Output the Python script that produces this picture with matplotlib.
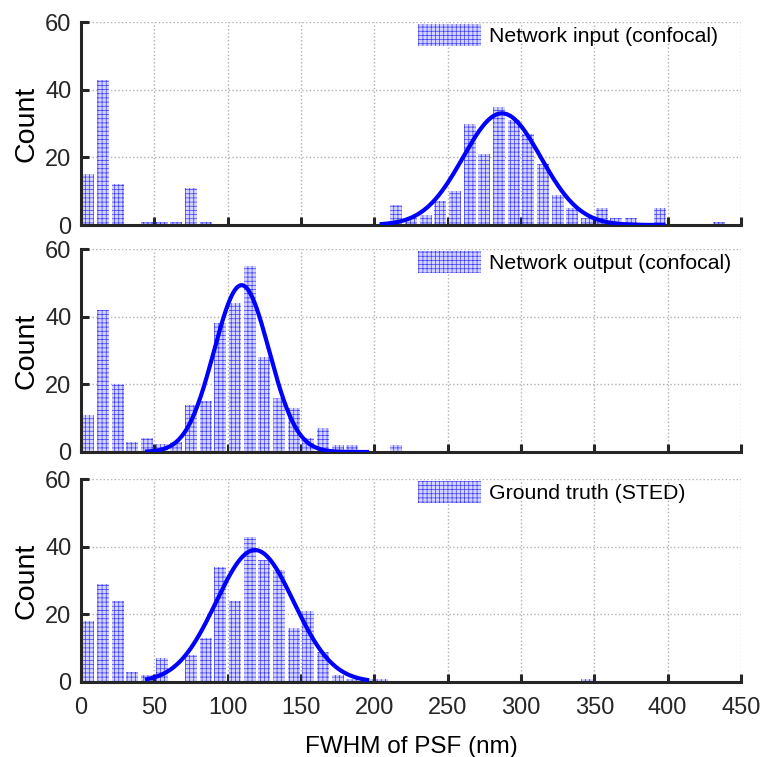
import numpy as np
import matplotlib.pyplot as plt

plt.rcParams['font.family'] = ['Liberation Sans', 'DejaVu Sans']
plt.rcParams['hatch.linewidth'] = 0.5

# histogram bins (nm), 10 nm wide
bin_left = list(range(0, 450, 10))

counts_input = [15, 43, 12, 0, 1, 1, 1, 11, 1, 0.3,
                0.3, 0, 0, 0, 0, 0, 0, 0.3, 0, 0.3,
                0, 6, 2, 3, 7, 10, 30, 21, 35, 31,
                27, 18, 9, 5, 2, 5, 2, 2, 0.3, 5,
                0, 0.3, 0, 1, 0]
counts_output = [11, 42, 20, 3, 4, 2.5, 3, 14, 15, 38,
                 44, 55, 28, 16, 13, 4, 7, 2, 2, 0.4,
                 0, 2, 0.4, 0.4, 0, 0.4, 0, 0, 0, 0,
                 0, 0, 0, 0.4, 0, 0, 0, 0, 0.4, 0,
                 0, 0, 0, 0, 0]
counts_sted = [18, 29, 24, 3, 2, 7, 0, 8, 13, 34,
               24, 43, 36, 33, 16, 21, 9, 2, 1, 1,
               1, 0.4, 0.4, 0.4, 0, 0, 0, 0.4, 0, 0,
               0, 0, 0, 0, 1, 0, 0, 0, 0.4, 0,
               0, 0, 0, 0, 0]

# gaussian fits: amplitude, mean, sigma, x-range
fit_input = (33, 287, 26.5, 205, 397)
fit_output = (49.3, 109.5, 18.8, 45, 195)
fit_sted = (39, 118.6, 26.5, 45, 195)

labels = ['Network input (confocal)', 'Network output (confocal)', 'Ground truth (STED)']

fig = plt.figure(figsize=(7.64, 7.57), dpi=100)
W, H = 764, 757
tops = [22, 249, 479]
panels = [(counts_input, fit_input), (counts_output, fit_output), (counts_sted, fit_sted)]

for i, (counts, fit) in enumerate(panels):
    top = tops[i]
    ax = fig.add_axes([81 / W, 1 - (top + 203) / H, 660 / W, 203 / H])
    centers = np.array(bin_left) + 5
    ax.bar(centers, counts, width=8.4, facecolor='#d4d4ff', edgecolor='#3c3cff',
           linewidth=0, hatch='++++', label=labels[i], zorder=2)
    a, mu, sd, x0, x1 = fit
    xs = np.linspace(x0, x1, 300)
    ax.plot(xs, a * np.exp(-0.5 * ((xs - mu) / sd) ** 2), color='blue', lw=3, zorder=3)

    ax.set_xlim(0, 450)
    ax.set_ylim(0, 60)
    ax.set_xticks(range(0, 451, 50))
    ax.set_yticks([0, 20, 40, 60])
    ax.grid(True, color='#b0b0b0', linestyle=':', linewidth=1.0, zorder=0)
    ax.set_axisbelow(True)
    for s in ['top', 'right']:
        ax.spines[s].set_visible(False)
    for s in ['bottom', 'left']:
        ax.spines[s].set_linewidth(2.2)
        ax.spines[s].set_color('#262626')
    ax.tick_params(direction='in', length=6, width=2.2, color='#262626',
                   labelcolor='#262626', labelsize=17)
    ax.tick_params(axis='y', pad=7)
    ax.tick_params(axis='x', pad=11)
    ax.set_ylabel('Count', fontsize=20.5, labelpad=4)
    if i < 2:
        ax.tick_params(labelbottom=False)
    else:
        ax.set_xlabel('FWHM of PSF (nm)', fontsize=17.5, labelpad=12)
    ax.legend(loc='upper left', frameon=False, fontsize=15.3,
              handlelength=3.0, handleheight=1.2, handletextpad=0.35,
              borderaxespad=0.0, borderpad=0.0, bbox_to_anchor=(0.51, 0.99))

fig.savefig('out.png', dpi=100)
